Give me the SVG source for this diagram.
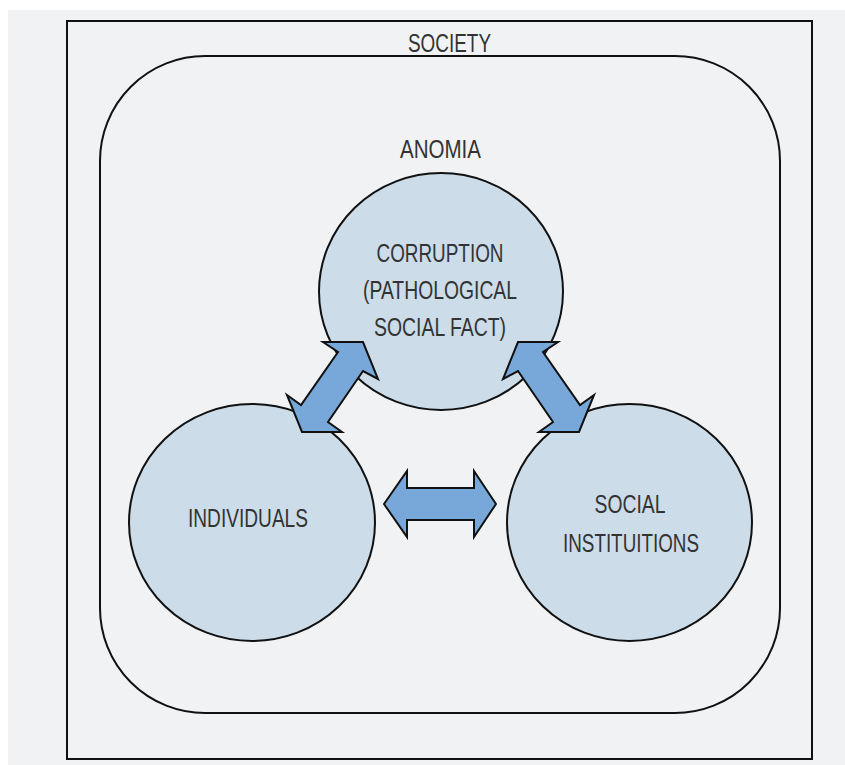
<svg xmlns="http://www.w3.org/2000/svg" width="845" height="765" viewBox="0 0 845 765">
<style>
.t{font-family:"Liberation Sans Narrow","Liberation Sans",Arial,sans-serif;font-size:25.5px;fill:#333333;text-anchor:middle}
.node{fill:#ccdce9;stroke:#111111;stroke-width:2}
.arr{fill:#78a7d9;stroke:#111111;stroke-width:2;stroke-linejoin:miter}
.frame{fill:none;stroke:#111111;stroke-width:2}
</style>
<rect x="0" y="0" width="845" height="765" fill="#ffffff"/>
<rect x="8" y="10" width="837" height="755" fill="#f1f2f4"/>
<g id="society">
<rect class="frame" x="67" y="21" width="745" height="738"/>
<text class="t" x="449.5" y="52" textLength="83" lengthAdjust="spacingAndGlyphs">SOCIETY</text>
</g>
<g id="anomia">
<rect class="frame" x="100" y="56" width="680" height="657" rx="105" ry="105"/>
<text class="t" x="440.5" y="158" textLength="81" lengthAdjust="spacingAndGlyphs">ANOMIA</text>
</g>
<g id="corruption">
<ellipse class="node" cx="441" cy="291.5" rx="122" ry="118.5"/>
<text class="t" x="440" y="262" textLength="127" lengthAdjust="spacingAndGlyphs">CORRUPTION</text>
<text class="t" x="440" y="299" textLength="154" lengthAdjust="spacingAndGlyphs">(PATHOLOGICAL</text>
<text class="t" x="440" y="336" textLength="132" lengthAdjust="spacingAndGlyphs">SOCIAL FACT)</text>
</g>
<g id="individuals">
<ellipse class="node" cx="252" cy="522.5" rx="123" ry="118.5"/>
<text class="t" x="248" y="527" textLength="120" lengthAdjust="spacingAndGlyphs">INDIVIDUALS</text>
</g>
<g id="institutions">
<ellipse class="node" cx="629.5" cy="522.5" rx="122.5" ry="118.5"/>
<text class="t" x="630" y="513" textLength="71" lengthAdjust="spacingAndGlyphs">SOCIAL</text>
<text class="t" x="631" y="552" textLength="136" lengthAdjust="spacingAndGlyphs">INSTITUITIONS</text>
</g>
<g id="connectors">
<polygon class="arr" points="323,342 363,342 378,379 363,371 328,422 342,432 302,432 287,395 301,405 338,352"/>
<polygon class="arr" points="558,342 518,342 503,379 518,371 553,422 539,432 579,432 594,395 580,405 543,352"/>
<polygon class="arr" points="384,504 407,471 407,488 474,488 474,471 496,504 474,537 474,520 407,520 407,537"/>
</g>
</svg>
